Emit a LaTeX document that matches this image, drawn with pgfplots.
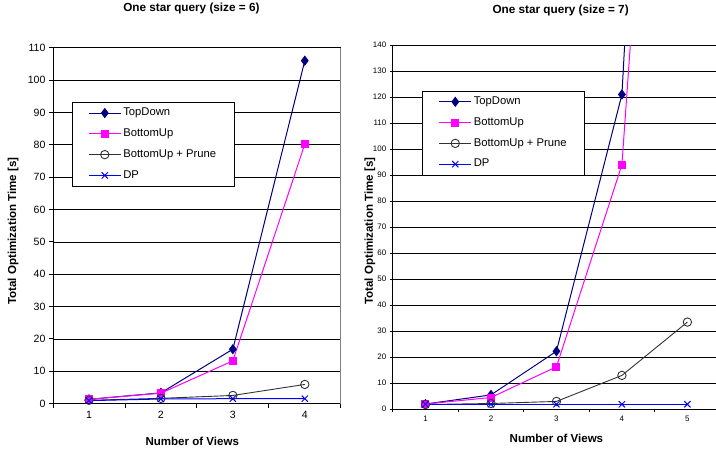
\documentclass[border=0pt]{standalone}
\usepackage{fontspec}
\setmainfont{Liberation Sans}
\usepackage{pgfplots}
\pgfplotsset{compat=1.18}

\definecolor{tdnavy}{RGB}{0,0,128}
\definecolor{bumag}{RGB}{255,0,255}
\definecolor{prgray}{RGB}{50,50,50}
\definecolor{dpblue}{RGB}{0,0,255}

\pgfplotsset{
  starchart/.style={
    scale only axis,
    axis x line*=bottom, axis y line*=left,
    axis line style={-, black, line width=0.9bp},
    ymajorgrids, major grid style={black, line width=0.6bp},
    tick align=outside,
    major x tick style={draw=none},
    minor x tick style={black, line width=0.8bp},
    minor tick length=4bp,
    major tick length=4bp,
    y tick style={black, line width=0.8bp},
    /pgf/number format/assume math mode=true,
    title style={font=\fontsize{11.8}{13}\selectfont\bfseries, anchor=center},
    label style={font=\fontsize{11.6}{13}\selectfont\bfseries},
    legend cell align=left,
    legend image code/.code={\draw[mark repeat=2, mark phase=2] plot coordinates {(0bp,0bp) (16bp,0bp) (32bp,0bp)};},
    legend style={draw=black, line width=0.7bp, anchor=north west,
      font=\fontsize{11.3}{13}\selectfont,
      inner xsep=16bp, inner ysep=3.5bp, row sep=6bp,
      nodes={inner sep=2bp, text height=8.2bp, text depth=2.6bp}},
  },
  tdstyle/.style={tdnavy, line width=1bp, mark=diamond*, mark size=4.4bp, mark options={fill=tdnavy}},
  bustyle/.style={bumag, line width=1bp, mark=square*, mark size=3.5bp, mark options={fill=bumag}},
  prstyle/.style={prgray, line width=0.9bp, mark=o, mark size=4.2bp, mark options={fill=none, line width=0.9bp}},
  dpstyle/.style={dpblue, line width=1bp, mark=x, mark size=4.4bp, mark options={line width=1bp}},
}

\begin{document}
\begin{tikzpicture}
\path (0bp,0bp) rectangle (716bp,447bp);

% left chart: size = 6
\begin{axis}[starchart,
  at={(53bp,47bp)}, anchor=south west,
  width=288bp, height=356bp,
  xmin=0.5, xmax=4.5, ymin=0, ymax=110,
  xtick={1,2,3,4}, minor xtick={0.5,1.5,2.5,3.5,4.5},
  ytick={0,10,...,110},
  tick label style={font=\fontsize{10.6}{12}\selectfont},
  title={One star query (size = 6)},
  title style={at={(0.481,1)}, yshift=33bp},
  xlabel={Number of Views},
  xlabel style={at={(0.484,0)}, anchor=center, yshift=-38bp},
  ylabel={Total Optimization Time [s]},
  ylabel style={at={(-0.138,0.485)}, anchor=center},
  legend style={at={(0.066,0.848)}},
]
\addplot[tdstyle] coordinates {(1,1.3) (2,3.3) (3,16.8) (4,106)};
\addplot[bustyle] coordinates {(1,1.3) (2,3.2) (3,13.2) (4,80.2)};
\addplot[prstyle] coordinates {(1,1.0) (2,1.6) (3,2.5) (4,5.9)};
\addplot[dpstyle] coordinates {(1,0.9) (2,1.4) (3,1.5) (4,1.5)};
\legend{TopDown, BottomUp, BottomUp + Prune, DP}
\draw[gray, line width=0.9bp] (rel axis cs:1,0) -- (rel axis cs:1,1);
\end{axis}

% right chart: size = 7 (its right edge runs past the picture)
\begin{axis}[starchart,
  at={(393bp,41.3bp)}, anchor=south west,
  width=323bp, height=364.4bp,
  xmin=0.5, xmax=5.43, ymin=0, ymax=140,
  xtick={1,2,3,4,5}, minor xtick={0.5,1.5,2.5,3.5,4.5},
  ytick={0,10,...,140},
  major tick length=3bp, minor tick length=3bp,
  tick label style={font=\fontsize{8}{10}\selectfont},
  title={One star query (size = 7)},
  title style={at={(0.520,1)}, yshift=29bp},
  xlabel={Number of Views},
  xlabel style={at={(0.507,0)}, anchor=center, yshift=-29.3bp},
  ylabel={Total Optimization Time [s]},
  ylabel style={at={(-0.071,0.489)}, anchor=center},
  legend style={at={(0.092,0.875)}},
]
\addplot[tdstyle] coordinates {(1,2.0) (2,5.5) (3,22.3) (4,121) (5,580)};
\addplot[bustyle] coordinates {(1,2.0) (2,4.5) (3,16.3) (4,94) (5,453)};
\addplot[prstyle] coordinates {(1,1.8) (2,2.2) (3,3.0) (4,13) (5,33.5)};
\addplot[dpstyle] coordinates {(1,1.9) (2,1.9) (3,1.9) (4,1.9) (5,1.9)};
\legend{TopDown, BottomUp, BottomUp + Prune, DP}
\end{axis}
\end{tikzpicture}
\end{document}
